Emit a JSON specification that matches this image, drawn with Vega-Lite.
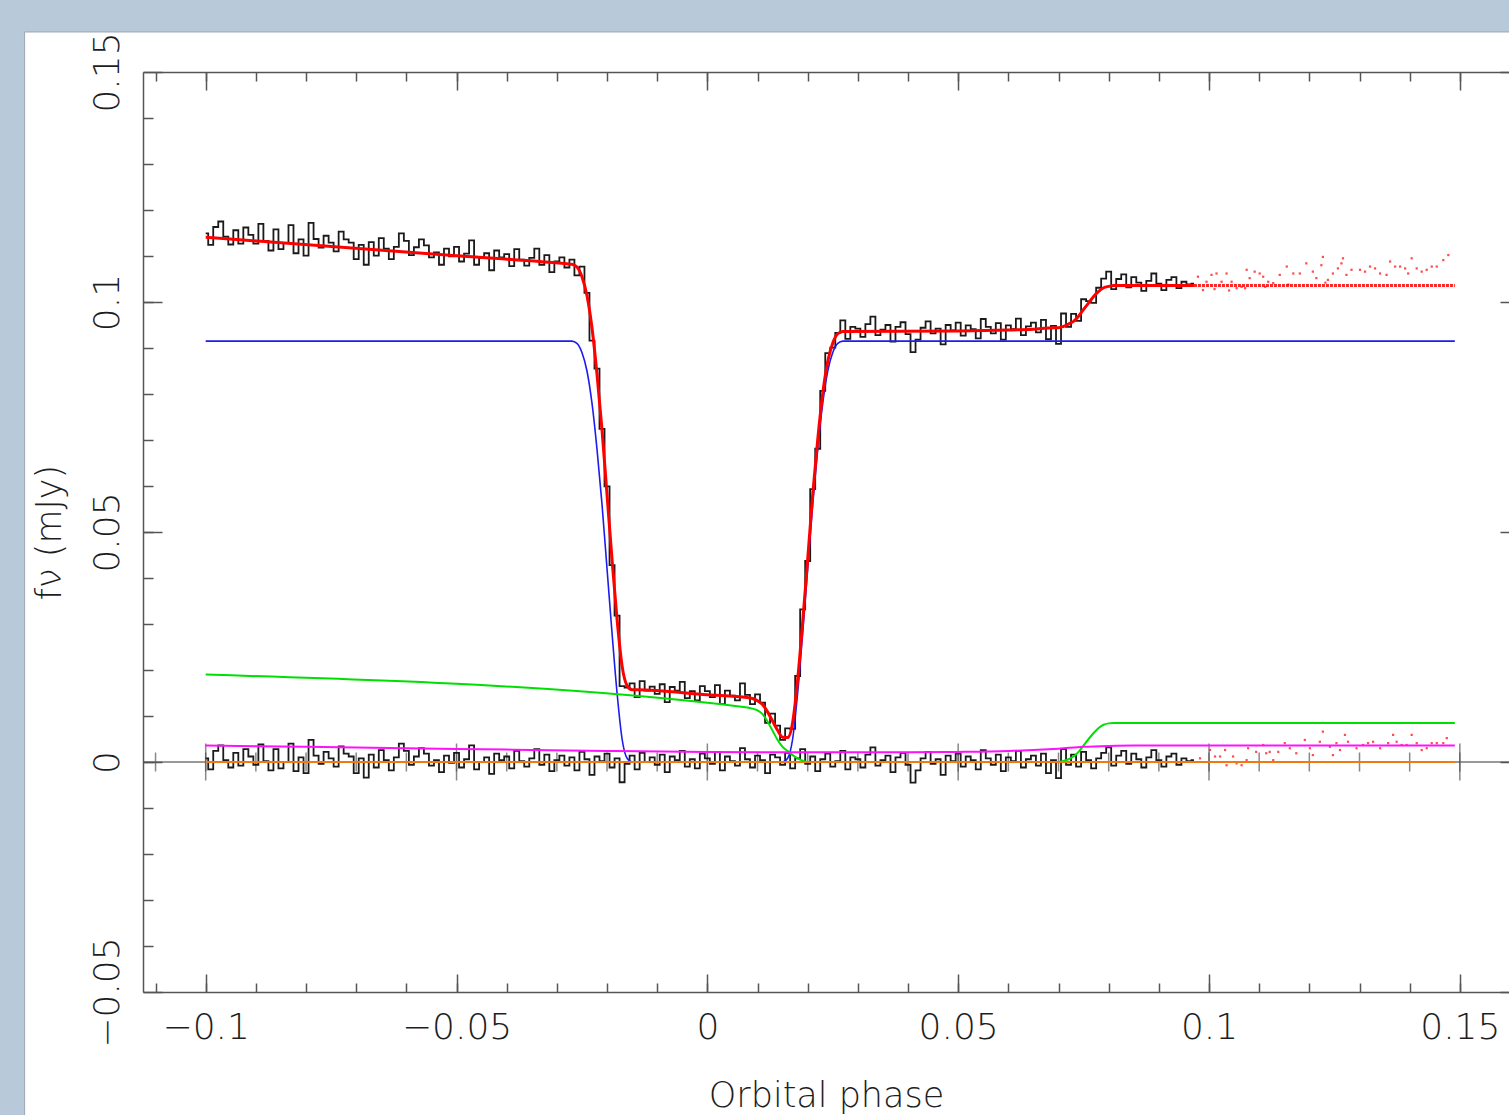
{
"$schema":"https://vega.github.io/schema/vega-lite/v6.json",
"width":1366,"height":920,
"autosize":{"type":"none"},
"padding":{"left":143,"top":72,"right":0,"bottom":123},
"background":"#b8c9da",
"config":{"view":{"stroke":null},"axis":{"grid":false,"labelFont":"DejaVu Sans","titleFont":"DejaVu Sans","labelColor":"#1e1e1e","titleColor":"#1e1e1e","tickColor":"#555555","domainColor":"#555555","tickWidth":1.5,"domainWidth":1.5,"labelFontWeight":200,"titleFontWeight":200,"labelLimit":0}},
"resolve":{"axis":{"x":"independent","y":"independent"}},
"datasets":{
"obs":[
{"p":-0.1,"f":0.1149,"r":0.0008},{"p":-0.099,"f":0.1124,"r":-0.0016},{"p":-0.098,"f":0.1163,"r":0.0024},{"p":-0.097,"f":0.1175,"r":0.0036},{"p":-0.096,"f":0.1142,"r":0.0004},{"p":-0.095,"f":0.1125,"r":-0.0012},{"p":-0.094,"f":0.1156,"r":0.002},{"p":-0.093,"f":0.1127,"r":-0.0008},{"p":-0.092,"f":0.1162,"r":0.0028},{"p":-0.091,"f":0.1146,"r":0.0012},
{"p":-0.09,"f":0.1127,"r":-0.0006},{"p":-0.089,"f":0.117,"r":0.0038},{"p":-0.088,"f":0.1133,"r":0.0002},{"p":-0.087,"f":0.1112,"r":-0.0018},{"p":-0.086,"f":0.1158,"r":0.0028},{"p":-0.085,"f":0.1115,"r":-0.0014},{"p":-0.084,"f":0.1128,"r":0},{"p":-0.083,"f":0.1167,"r":0.004},{"p":-0.082,"f":0.1106,"r":-0.002},{"p":-0.081,"f":0.1136,"r":0.001},
{"p":-0.08,"f":0.1101,"r":-0.0024},{"p":-0.079,"f":0.1172,"r":0.0048},{"p":-0.078,"f":0.1137,"r":0.0014},{"p":-0.077,"f":0.1118,"r":-0.0004},{"p":-0.076,"f":0.1144,"r":0.0022},{"p":-0.075,"f":0.1129,"r":0.0008},{"p":-0.074,"f":0.111,"r":-0.001},{"p":-0.073,"f":0.1153,"r":0.0034},{"p":-0.072,"f":0.1136,"r":0.0018},{"p":-0.071,"f":0.1129,"r":0.0012},
{"p":-0.07,"f":0.1093,"r":-0.0024},{"p":-0.069,"f":0.1124,"r":0.0008},{"p":-0.068,"f":0.1081,"r":-0.0034},{"p":-0.067,"f":0.113,"r":0.0016},{"p":-0.066,"f":0.1101,"r":-0.0012},{"p":-0.065,"f":0.1139,"r":0.0026},{"p":-0.064,"f":0.1116,"r":0.0004},{"p":-0.063,"f":0.1093,"r":-0.0018},{"p":-0.062,"f":0.112,"r":0.001},{"p":-0.061,"f":0.1149,"r":0.004},
{"p":-0.06,"f":0.1133,"r":0.0024},{"p":-0.059,"f":0.1102,"r":-0.0006},{"p":-0.058,"f":0.1119,"r":0.0012},{"p":-0.057,"f":0.1136,"r":0.003},{"p":-0.056,"f":0.1123,"r":0.0018},{"p":-0.055,"f":0.1097,"r":-0.0008},{"p":-0.054,"f":0.1108,"r":0.0004},{"p":-0.053,"f":0.1081,"r":-0.0022},{"p":-0.052,"f":0.1116,"r":0.0014},{"p":-0.051,"f":0.1099,"r":-0.0002},
{"p":-0.05,"f":0.112,"r":0.002},{"p":-0.049,"f":0.1088,"r":-0.0012},{"p":-0.048,"f":0.1105,"r":0.0006},{"p":-0.047,"f":0.1134,"r":0.0036},{"p":-0.046,"f":0.1081,"r":-0.0016},{"p":-0.045,"f":0.1096,"r":0},{"p":-0.044,"f":0.1106,"r":0.001},{"p":-0.043,"f":0.1069,"r":-0.0026},{"p":-0.042,"f":0.1112,"r":0.0018},{"p":-0.041,"f":0.1097,"r":0.0004},
{"p":-0.04,"f":0.1104,"r":0.0012},{"p":-0.039,"f":0.1078,"r":-0.0014},{"p":-0.038,"f":0.1115,"r":0.0024},{"p":-0.037,"f":0.1092,"r":0.0002},{"p":-0.036,"f":0.1079,"r":-0.001},{"p":-0.035,"f":0.1096,"r":0.0008},{"p":-0.034,"f":0.1116,"r":0.0028},{"p":-0.033,"f":0.1081,"r":-0.0006},{"p":-0.032,"f":0.1102,"r":0.0016},{"p":-0.031,"f":0.1065,"r":-0.002},
{"p":-0.03,"f":0.1088,"r":0.0004},{"p":-0.029,"f":0.1097,"r":0.0014},{"p":-0.028,"f":0.1075,"r":-0.0008},{"p":-0.027,"f":0.1092,"r":0.001},{"p":-0.026,"f":0.1058,"r":-0.0018},{"p":-0.025,"f":0.1077,"r":0.0022},{"p":-0.024,"f":0.102,"r":0.0006},{"p":-0.023,"f":0.0916,"r":-0.0028},{"p":-0.022,"f":0.0855,"r":0.0012},{"p":-0.021,"f":0.0724,"r":0.0002},
{"p":-0.02,"f":0.0599,"r":0.0018},{"p":-0.019,"f":0.0428,"r":-0.0012},{"p":-0.018,"f":0.0318,"r":0.0008},{"p":-0.017,"f":0.0165,"r":-0.0044},{"p":-0.016,"f":0.0162,"r":-0.0004},{"p":-0.015,"f":0.0171,"r":0.0014},{"p":-0.014,"f":0.0141,"r":-0.0016},{"p":-0.013,"f":0.0176,"r":0.002},{"p":-0.012,"f":0.0155,"r":0},{"p":-0.011,"f":0.0164,"r":0.001},
{"p":-0.01,"f":0.0148,"r":-0.0006},{"p":-0.009,"f":0.0169,"r":0.0016},{"p":-0.008,"f":0.013,"r":-0.0022},{"p":-0.007,"f":0.0163,"r":0.0012},{"p":-0.006,"f":0.0155,"r":0.0004},{"p":-0.005,"f":0.0174,"r":0.0024},{"p":-0.004,"f":0.0139,"r":-0.001},{"p":-0.003,"f":0.0154,"r":0.0006},{"p":-0.002,"f":0.0134,"r":-0.0014},{"p":-0.001,"f":0.0165,"r":0.0018},
{"p":0,"f":0.0154,"r":0.0008},{"p":0.001,"f":0.0141,"r":-0.0004},{"p":0.002,"f":0.0167,"r":0.0022},{"p":0.003,"f":0.0126,"r":-0.0018},{"p":0.004,"f":0.0155,"r":0.0012},{"p":0.005,"f":0.0144,"r":0.0002},{"p":0.006,"f":0.0134,"r":-0.0008},{"p":0.007,"f":0.0171,"r":0.003},{"p":0.008,"f":0.0146,"r":0.0006},{"p":0.009,"f":0.0126,"r":-0.0012},
{"p":0.01,"f":0.0147,"r":0.0014},{"p":0.011,"f":0.0129,"r":0.0004},{"p":0.012,"f":0.0085,"r":-0.0024},{"p":0.013,"f":0.0105,"r":0.0016},{"p":0.014,"f":0.0079,"r":0.001},{"p":0.015,"f":0.0048,"r":-0.0006},{"p":0.016,"f":0.0073,"r":0.002},{"p":0.017,"f":0.0072,"r":-0.0014},{"p":0.018,"f":0.0187,"r":0.0008},{"p":0.019,"f":0.0332,"r":0.0028},
{"p":0.02,"f":0.0437,"r":-0.0004},{"p":0.021,"f":0.0593,"r":0.0012},{"p":0.022,"f":0.0681,"r":-0.002},{"p":0.023,"f":0.0807,"r":0.0006},{"p":0.024,"f":0.0889,"r":0.0018},{"p":0.025,"f":0.0901,"r":-0.001},{"p":0.026,"f":0.0933,"r":0.0002},{"p":0.027,"f":0.096,"r":0.0024},{"p":0.028,"f":0.092,"r":-0.0016},{"p":0.029,"f":0.0946,"r":0.001},
{"p":0.03,"f":0.0942,"r":0.0006},{"p":0.031,"f":0.0924,"r":-0.0012},{"p":0.032,"f":0.0952,"r":0.0016},{"p":0.033,"f":0.0968,"r":0.0032},{"p":0.034,"f":0.0928,"r":-0.0008},{"p":0.035,"f":0.094,"r":0.0004},{"p":0.036,"f":0.095,"r":0.0014},{"p":0.037,"f":0.0914,"r":-0.0022},{"p":0.038,"f":0.0946,"r":0.001},{"p":0.039,"f":0.0956,"r":0.002},
{"p":0.04,"f":0.093,"r":-0.0006},{"p":0.041,"f":0.0891,"r":-0.0045},{"p":0.042,"f":0.0918,"r":-0.0018},{"p":0.043,"f":0.0944,"r":0.0008},{"p":0.044,"f":0.0958,"r":0.0022},{"p":0.045,"f":0.0932,"r":-0.0004},{"p":0.046,"f":0.0942,"r":0.0006},{"p":0.047,"f":0.0908,"r":-0.0028},{"p":0.048,"f":0.095,"r":0.0014},{"p":0.049,"f":0.0938,"r":0.0002},
{"p":0.05,"f":0.0955,"r":0.0018},{"p":0.051,"f":0.0927,"r":-0.001},{"p":0.052,"f":0.0949,"r":0.0012},{"p":0.053,"f":0.0941,"r":0.0004},{"p":0.054,"f":0.0921,"r":-0.0016},{"p":0.055,"f":0.0963,"r":0.0026},{"p":0.056,"f":0.0946,"r":0.0008},{"p":0.057,"f":0.0932,"r":-0.0006},{"p":0.058,"f":0.0954,"r":0.0016},{"p":0.059,"f":0.0918,"r":-0.002},
{"p":0.06,"f":0.0949,"r":0.001},{"p":0.061,"f":0.0941,"r":0.0002},{"p":0.062,"f":0.0964,"r":0.0024},{"p":0.063,"f":0.0928,"r":-0.0012},{"p":0.064,"f":0.0947,"r":0.0006},{"p":0.065,"f":0.0955,"r":0.0014},{"p":0.066,"f":0.0934,"r":-0.0008},{"p":0.067,"f":0.0961,"r":0.0018},{"p":0.068,"f":0.0919,"r":-0.0024},{"p":0.069,"f":0.0948,"r":0.0004},
{"p":0.07,"f":0.0909,"r":-0.0035},{"p":0.071,"f":0.0975,"r":0.0028},{"p":0.072,"f":0.0946,"r":-0.0006},{"p":0.073,"f":0.0974,"r":0.0016},{"p":0.074,"f":0.0959,"r":-0.001},{"p":0.075,"f":0.1006,"r":0.0022},{"p":0.076,"f":0.1002,"r":0.0004},{"p":0.077,"f":0.0998,"r":-0.0014},{"p":0.078,"f":0.1031,"r":0.0008},{"p":0.079,"f":0.1051,"r":0.002},
{"p":0.08,"f":0.1066,"r":0.0032},{"p":0.081,"f":0.1028,"r":-0.0008},{"p":0.082,"f":0.105,"r":0.0014},{"p":0.083,"f":0.106,"r":0.0024},{"p":0.084,"f":0.1032,"r":-0.0004},{"p":0.085,"f":0.1054,"r":0.0018},{"p":0.086,"f":0.1042,"r":0.0006},{"p":0.087,"f":0.1024,"r":-0.0012},{"p":0.088,"f":0.1046,"r":0.001},{"p":0.089,"f":0.1062,"r":0.0026},
{"p":0.09,"f":0.104,"r":0.0004},{"p":0.091,"f":0.1026,"r":-0.001},{"p":0.092,"f":0.1048,"r":0.0012},{"p":0.093,"f":0.1054,"r":0.0018},{"p":0.094,"f":0.103,"r":-0.0006},{"p":0.095,"f":0.1044,"r":0.0008},{"p":0.096,"f":0.1038,"r":0.0002},{"p":0.097,"f":0.104,"r":0.0004}
],
"model":[
{"p":-0.1,"m":0.1141},{"p":-0.05,"m":0.11005},{"p":-0.028,"m":0.1083},{"p":-0.027,"m":0.1082},{"p":-0.026,"m":0.1076},{"p":-0.025,"m":0.1055},{"p":-0.024,"m":0.1014},{"p":-0.023,"m":0.0944},{"p":-0.022,"m":0.0843},{"p":-0.021,"m":0.0722},{"p":-0.02,"m":0.0581},{"p":-0.019,"m":0.044},{"p":-0.018,"m":0.031},{"p":-0.017,"m":0.0209},{"p":-0.016,"m":0.0166},{"p":-0.015,"m":0.0157},{"p":-0.014,"m":0.0157},{"p":0,"m":0.0146},{"p":0.008,"m":0.014},{"p":0.009,"m":0.0138},{"p":0.01,"m":0.0133},{"p":0.011,"m":0.0125},{"p":0.012,"m":0.0109},{"p":0.013,"m":0.0089},{"p":0.014,"m":0.0069},{"p":0.015,"m":0.0054},{"p":0.016,"m":0.0053},{"p":0.017,"m":0.0086},{"p":0.018,"m":0.0179},{"p":0.019,"m":0.0304},{"p":0.02,"m":0.0441},{"p":0.021,"m":0.0581},{"p":0.022,"m":0.0701},{"p":0.023,"m":0.0801},{"p":0.024,"m":0.0871},{"p":0.025,"m":0.0911},{"p":0.026,"m":0.0931},{"p":0.027,"m":0.0936},{"p":0.05,"m":0.0937},{"p":0.06,"m":0.0939},{"p":0.065,"m":0.0941},{"p":0.069,"m":0.0944},{"p":0.07,"m":0.0944},{"p":0.071,"m":0.0947},{"p":0.072,"m":0.0952},{"p":0.073,"m":0.0958},{"p":0.074,"m":0.0969},{"p":0.075,"m":0.0984},{"p":0.076,"m":0.0998},{"p":0.077,"m":0.1012},{"p":0.078,"m":0.1023},{"p":0.079,"m":0.1031},{"p":0.08,"m":0.1034},{"p":0.081,"m":0.1036},{"p":0.097,"m":0.1036}
],
"modelTail":[{"p":0.097,"m":0.1036},{"p":0.149,"m":0.1036}],
"wd":[
{"p":-0.1,"v":0.0915},{"p":-0.027,"v":0.0915},{"p":-0.026,"v":0.091},{"p":-0.025,"v":0.089},{"p":-0.024,"v":0.085},{"p":-0.023,"v":0.078},{"p":-0.022,"v":0.068},{"p":-0.021,"v":0.056},{"p":-0.02,"v":0.042},{"p":-0.019,"v":0.028},{"p":-0.018,"v":0.015},{"p":-0.017,"v":0.005},{"p":-0.016,"v":0.0008},{"p":-0.015,"v":0},{"p":0.015,"v":0},{"p":0.016,"v":0.0008},{"p":0.017,"v":0.005},{"p":0.018,"v":0.015},{"p":0.019,"v":0.028},{"p":0.02,"v":0.042},{"p":0.021,"v":0.056},{"p":0.022,"v":0.068},{"p":0.023,"v":0.078},{"p":0.024,"v":0.085},{"p":0.025,"v":0.089},{"p":0.026,"v":0.091},{"p":0.027,"v":0.0915},{"p":0.149,"v":0.0915}
],
"disc":[
{"p":-0.1,"v":0.019},{"p":0.008,"v":0.01187},{"p":0.009,"v":0.0116},{"p":0.01,"v":0.0112},{"p":0.011,"v":0.0104},{"p":0.012,"v":0.0088},{"p":0.013,"v":0.0068},{"p":0.014,"v":0.0048},{"p":0.015,"v":0.0033},{"p":0.016,"v":0.0024},{"p":0.017,"v":0.0015},{"p":0.018,"v":0.0008},{"p":0.019,"v":0.0003},{"p":0.02,"v":0},{"p":0.07,"v":0},{"p":0.071,"v":0.0002},{"p":0.072,"v":0.0006},{"p":0.073,"v":0.0012},{"p":0.074,"v":0.0022},{"p":0.075,"v":0.0036},{"p":0.076,"v":0.005},{"p":0.077,"v":0.0063},{"p":0.078,"v":0.0074},{"p":0.079,"v":0.0081},{"p":0.08,"v":0.0084},{"p":0.081,"v":0.0085},{"p":0.149,"v":0.0085}
],
"sec":[
{"p":-0.1,"v":0.0036},{"p":-0.08,"v":0.0033},{"p":-0.06,"v":0.003},{"p":-0.04,"v":0.0027},{"p":-0.02,"v":0.0024},{"p":0,"v":0.0022},{"p":0.02,"v":0.0021},{"p":0.04,"v":0.0021},{"p":0.05,"v":0.0022},{"p":0.06,"v":0.0024},{"p":0.065,"v":0.0026},{"p":0.07,"v":0.0029},{"p":0.075,"v":0.0033},{"p":0.08,"v":0.0035},{"p":0.085,"v":0.0036},{"p":0.149,"v":0.0036}
],
"base":[{"p":-0.1,"v":0},{"p":0.149,"v":0}],
"dots":[
{"p":0.0978,"v":0.1055},{"p":0.0988,"v":0.1026},{"p":0.0995,"v":0.1044},{"p":0.1005,"v":0.1059},{"p":0.1015,"v":0.1062},{"p":0.1025,"v":0.1044},{"p":0.1035,"v":0.1062},{"p":0.1045,"v":0.1044},{"p":0.1055,"v":0.103},{"p":0.1065,"v":0.1033},{"p":0.1075,"v":0.107},{"p":0.1081,"v":0.1052},{"p":0.1091,"v":0.1066},{"p":0.1101,"v":0.1062},{"p":0.1108,"v":0.1055},{"p":0.1118,"v":0.1044},{"p":0.1128,"v":0.1041},{"p":0.1141,"v":0.1059},{"p":0.1155,"v":0.1077},{"p":0.1168,"v":0.1062},{"p":0.1181,"v":0.1062},{"p":0.1194,"v":0.1084},{"p":0.1207,"v":0.1066},{"p":0.1214,"v":0.1052},{"p":0.1224,"v":0.108},{"p":0.1227,"v":0.1098},{"p":0.1237,"v":0.1048},{"p":0.1247,"v":0.1062},{"p":0.1257,"v":0.1073},{"p":0.1264,"v":0.1084},{"p":0.1267,"v":0.1095},{"p":0.1274,"v":0.1059},{"p":0.1284,"v":0.107},{"p":0.1301,"v":0.107},{"p":0.1311,"v":0.1066},{"p":0.1321,"v":0.1077},{"p":0.1331,"v":0.1073},{"p":0.1341,"v":0.1062},{"p":0.1354,"v":0.1059},{"p":0.1361,"v":0.1088},{"p":0.1371,"v":0.1077},{"p":0.1381,"v":0.1077},{"p":0.1391,"v":0.1073},{"p":0.1397,"v":0.1062},{"p":0.1404,"v":0.1095},{"p":0.1414,"v":0.1073},{"p":0.1424,"v":0.1066},{"p":0.1434,"v":0.107},{"p":0.1444,"v":0.1077},{"p":0.1454,"v":0.1077},{"p":0.1467,"v":0.1091},{"p":0.1477,"v":0.1102},
{"p":0.1011,"v":0.1028},{"p":0.104,"v":0.1025},{"p":0.1072,"v":0.103},{"p":0.1112,"v":0.1033},{"p":0.1158,"v":0.1038},{"p":0.1232,"v":0.1042},
{"p":0.0982,"v":0.0008},{"p":0.1002,"v":0.0026},{"p":0.1012,"v":0.0012},{"p":0.1022,"v":0.0012},{"p":0.1032,"v":0.0026},{"p":0.1035,"v":-0.0007},{"p":0.1048,"v":0.0012},{"p":0.1055,"v":-0.0003},{"p":0.1065,"v":-0.0007},{"p":0.1075,"v":0.0004},{"p":0.1078,"v":0.003},{"p":0.1094,"v":0.0022},{"p":0.1108,"v":0.0037},{"p":0.1114,"v":0.0019},{"p":0.1121,"v":0.0022},{"p":0.1128,"v":0.0004},{"p":0.1138,"v":0.0022},{"p":0.1151,"v":0.0041},{"p":0.1161,"v":0.003},{"p":0.1174,"v":0.0019},{"p":0.1191,"v":0.0048},{"p":0.1201,"v":0.003},{"p":0.1207,"v":0.0015},{"p":0.1221,"v":0.0044},{"p":0.1227,"v":0.0066},{"p":0.1241,"v":0.0033},{"p":0.1247,"v":0.0015},{"p":0.1254,"v":0.0041},{"p":0.1261,"v":0.0026},{"p":0.1271,"v":0.0059},{"p":0.1277,"v":0.0044},{"p":0.1294,"v":0.003},{"p":0.1307,"v":0.0037},{"p":0.1317,"v":0.0041},{"p":0.1327,"v":0.0044},{"p":0.1341,"v":0.003},{"p":0.1357,"v":0.0041},{"p":0.1367,"v":0.0059},{"p":0.1374,"v":0.0044},{"p":0.1384,"v":0.0037},{"p":0.1394,"v":0.0037},{"p":0.1404,"v":0.0059},{"p":0.1414,"v":0.0041},{"p":0.1424,"v":0.0026},{"p":0.1434,"v":0.003},{"p":0.1444,"v":0.0041},{"p":0.1454,"v":0.0041},{"p":0.1467,"v":0.0041},{"p":0.1474,"v":0.0052}
],
"zMinor":[{"p":-0.11},{"p":-0.1},{"p":-0.09},{"p":-0.08},{"p":-0.07},{"p":-0.06},{"p":-0.05},{"p":-0.04},{"p":-0.03},{"p":-0.02},{"p":-0.01},{"p":0},{"p":0.01},{"p":0.02},{"p":0.03},{"p":0.04},{"p":0.05},{"p":0.06},{"p":0.07},{"p":0.08},{"p":0.09},{"p":0.1},{"p":0.11},{"p":0.12},{"p":0.13},{"p":0.14},{"p":0.15}],
"zMajor":[{"p":-0.1},{"p":-0.05},{"p":0},{"p":0.05},{"p":0.1},{"p":0.15}]
},
"layer":[
{"data":{"values":[{}]},"mark":{"type":"rect","fill":"#ffffff","stroke":"#9aa6b2","strokeWidth":1},
 "encoding":{"x":{"datum":-0.1361,"type":"quantitative","scale":{"domain":[-0.1125,0.1598],"nice":false,"zero":false},"axis":null},"x2":{"datum":0.2},
 "y":{"datum":0.1587,"type":"quantitative","scale":{"domain":[-0.05,0.15],"nice":false,"zero":false},"axis":null},"y2":{"datum":-0.1}}},
{"data":{"values":[{}]},"mark":{"type":"rule","color":"#333333","strokeWidth":1},
 "encoding":{"y":{"datum":0,"type":"quantitative","scale":{"domain":[-0.05,0.15],"nice":false,"zero":false},"axis":null}}},
{"data":{"name":"zMinor"},"mark":{"type":"tick","orient":"vertical","size":19,"thickness":1.5,"color":"#555555"},
 "encoding":{"x":{"field":"p","type":"quantitative","scale":{"domain":[-0.1125,0.1598],"nice":false,"zero":false},"axis":null},
 "y":{"datum":0,"type":"quantitative","scale":{"domain":[-0.05,0.15],"nice":false,"zero":false},"axis":null}}},
{"data":{"name":"zMajor"},"mark":{"type":"tick","orient":"vertical","size":37,"thickness":1.5,"color":"#555555"},
 "encoding":{"x":{"field":"p","type":"quantitative","scale":{"domain":[-0.1125,0.1598],"nice":false,"zero":false},"axis":null},
 "y":{"datum":0,"type":"quantitative","scale":{"domain":[-0.05,0.15],"nice":false,"zero":false},"axis":null}}},
{"data":{"name":"obs"},"mark":{"type":"line","interpolate":"step","color":"#1a1a1a","strokeWidth":1.8},
 "encoding":{"x":{"field":"p","type":"quantitative","scale":{"domain":[-0.1125,0.1598],"nice":false,"zero":false},
   "axis":{"zindex":2,"orient":"bottom","values":[-0.1,-0.05,0,0.05,0.1,0.15],"format":".2~f","ticks":false,"domain":false,"labelFontSize":36,"labelPadding":18,"labelFlush":false,"labelOverlap":false,"labelLimit":0,"title":"Orbital phase","titleFontSize":35,"titlePadding":33}},
 "y":{"field":"f","type":"quantitative","scale":{"domain":[-0.05,0.15],"nice":false,"zero":false},
   "axis":{"zindex":2,"orient":"left","values":[-0.05,0,0.05,0.1,0.15],"format":".2~f","ticks":false,"domain":false,"labelFontSize":36,"labelAngle":270,"labelAlign":"center","labelBaseline":"alphabetic","labelPadding":25,"labelOverlap":false,"labelFlush":false,"labelLimit":0,"labelBound":false,"title":"fν (mJy)","titleFontSize":35,"titlePadding":22}}}},
{"data":{"name":"obs"},"mark":{"type":"line","interpolate":"step","color":"#1a1a1a","strokeWidth":1.8},
 "encoding":{"x":{"field":"p","type":"quantitative","scale":{"domain":[-0.1125,0.1598],"nice":false,"zero":false},"axis":null},
 "y":{"field":"r","type":"quantitative","scale":{"domain":[-0.05,0.15],"nice":false,"zero":false},"axis":null}}},
{"data":{"name":"dots"},"mark":{"type":"square","size":5,"color":"#ff2020","opacity":0.8},
 "encoding":{"x":{"field":"p","type":"quantitative","scale":{"domain":[-0.1125,0.1598],"nice":false,"zero":false},"axis":null},
 "y":{"field":"v","type":"quantitative","scale":{"domain":[-0.05,0.15],"nice":false,"zero":false},"axis":null}}},
{"data":{"name":"wd"},"mark":{"type":"line","interpolate":"monotone","color":"#1c1cf0","strokeWidth":1.6},
 "encoding":{"x":{"field":"p","type":"quantitative","scale":{"domain":[-0.1125,0.1598],"nice":false,"zero":false},
   "axis":{"zindex":2,"orient":"bottom","values":[-0.1,-0.05,0,0.05,0.1,0.15],"tickSize":-18,"labels":false,"domain":true,"title":null}},
 "y":{"field":"v","type":"quantitative","scale":{"domain":[-0.05,0.15],"nice":false,"zero":false},
   "axis":{"zindex":2,"orient":"left","values":[-0.05,0,0.05,0.1,0.15],"tickSize":-19,"labels":false,"domain":true,"title":null}}}},
{"data":{"name":"disc"},"mark":{"type":"line","interpolate":"monotone","color":"#00e000","strokeWidth":2},
 "encoding":{"x":{"field":"p","type":"quantitative","scale":{"domain":[-0.1125,0.1598],"nice":false,"zero":false},
   "axis":{"zindex":2,"orient":"bottom","values":[-0.11,-0.1,-0.09,-0.08,-0.07,-0.06,-0.05,-0.04,-0.03,-0.02,-0.01,0,0.01,0.02,0.03,0.04,0.05,0.06,0.07,0.08,0.09,0.1,0.11,0.12,0.13,0.14,0.15],"tickSize":-9,"labels":false,"domain":false,"title":null}},
 "y":{"field":"v","type":"quantitative","scale":{"domain":[-0.05,0.15],"nice":false,"zero":false},
   "axis":{"zindex":2,"orient":"left","values":[-0.04,-0.03,-0.02,-0.01,0,0.01,0.02,0.03,0.04,0.05,0.06,0.07,0.08,0.09,0.1,0.11,0.12,0.13,0.14],"tickSize":-10,"labels":false,"domain":false,"title":null}}}},
{"data":{"name":"sec"},"mark":{"type":"line","interpolate":"monotone","color":"#ff10ff","strokeWidth":2},
 "encoding":{"x":{"field":"p","type":"quantitative","scale":{"domain":[-0.1125,0.1598],"nice":false,"zero":false},
   "axis":{"zindex":2,"orient":"top","values":[-0.1,-0.05,0,0.05,0.1,0.15],"tickSize":-18,"labels":false,"domain":true,"title":null}},
 "y":{"field":"v","type":"quantitative","scale":{"domain":[-0.05,0.15],"nice":false,"zero":false},
   "axis":{"zindex":2,"orient":"right","values":[-0.05,0,0.05,0.1,0.15],"tickSize":-9,"labels":false,"domain":false,"title":null}}}},
{"data":{"name":"base"},"mark":{"type":"line","color":"#f07a10","strokeWidth":2},
 "encoding":{"x":{"field":"p","type":"quantitative","scale":{"domain":[-0.1125,0.1598],"nice":false,"zero":false},
   "axis":{"zindex":2,"orient":"top","values":[-0.11,-0.1,-0.09,-0.08,-0.07,-0.06,-0.05,-0.04,-0.03,-0.02,-0.01,0,0.01,0.02,0.03,0.04,0.05,0.06,0.07,0.08,0.09,0.1,0.11,0.12,0.13,0.14,0.15],"tickSize":-9,"labels":false,"domain":false,"title":null}},
 "y":{"field":"v","type":"quantitative","scale":{"domain":[-0.05,0.15],"nice":false,"zero":false},"axis":null}}},
{"data":{"name":"model"},"mark":{"type":"line","interpolate":"monotone","color":"#ff0000","strokeWidth":3},
 "encoding":{"x":{"field":"p","type":"quantitative","scale":{"domain":[-0.1125,0.1598],"nice":false,"zero":false},"axis":null},
 "y":{"field":"m","type":"quantitative","scale":{"domain":[-0.05,0.15],"nice":false,"zero":false},"axis":null}}},
{"data":{"name":"modelTail"},"mark":{"type":"line","color":"#ff0000","strokeWidth":3,"strokeDash":[3,1],"opacity":0.85},
 "encoding":{"x":{"field":"p","type":"quantitative","scale":{"domain":[-0.1125,0.1598],"nice":false,"zero":false},"axis":null},
 "y":{"field":"m","type":"quantitative","scale":{"domain":[-0.05,0.15],"nice":false,"zero":false},"axis":null}}}
]
}
